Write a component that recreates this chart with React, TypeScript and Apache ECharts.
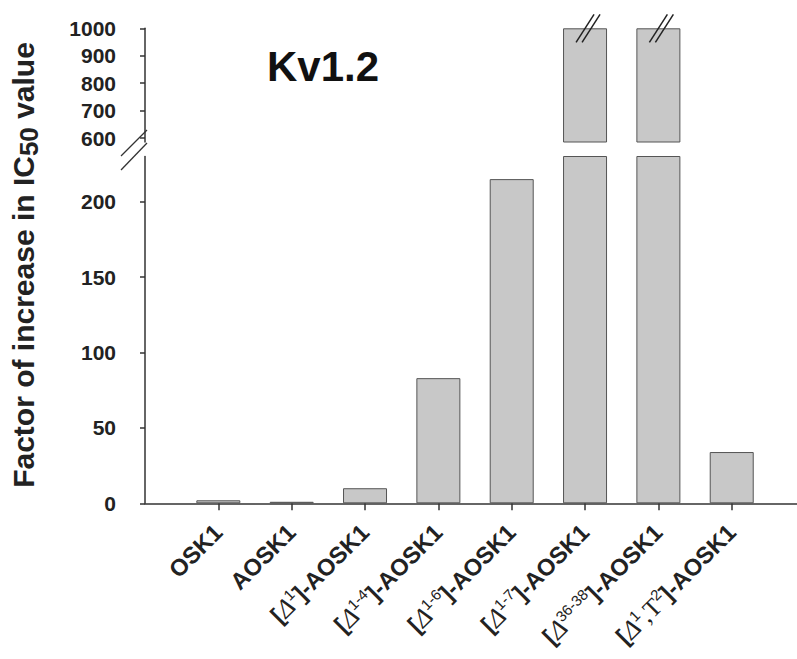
import React, { useEffect, useRef } from "react";
import * as echarts from "echarts";

// Peptide variants (x positions 1..8)
const categories = [
  "OSK1",
  "AOSK1",
  "[Δ1]-AOSK1",
  "[Δ1-4]-AOSK1",
  "[Δ1-6]-AOSK1",
  "[Δ1-7]-AOSK1",
  "[Δ36-38]-AOSK1",
  "[Δ1,T2]-AOSK1",
];
// Rich-text versions of the category labels (superscripts)
const categoryLabels = [
  "{b|OSK1}",
  "{b|AOSK1}",
  "{b|[}{d|Δ}{s|1}{b|]-AOSK1}",
  "{b|[}{d|Δ}{s|1-4}{b|]-AOSK1}",
  "{b|[}{d|Δ}{s|1-6}{b|]-AOSK1}",
  "{b|[}{d|Δ}{s|1-7}{b|]-AOSK1}",
  "{b|[}{d|Δ}{s|36-38}{b|]-AOSK1}",
  "{b|[}{d|Δ}{s|1}{t|,T}{s|2}{b|]-AOSK1}",
];
// Factor of increase in IC50 (two values run off the top of the scale, shown capped at 1000)
const values = [2, 1, 10, 83, 215, 1000, 1000, 34];
const offScale = [false, false, false, false, false, true, true, false];

const lowerTicks = [0, 50, 100, 150, 200];
const upperTicks = [600, 700, 800, 900, 1000];
const lowerMax = 230;
const upperMin = 586;
const upperMax = 1000;

const positions = categories.map((_, i) => i + 1);

export default function App() {
  const ref = useRef<HTMLDivElement>(null);

  useEffect(() => {
    const chart = echarts.init(ref.current!, null, { renderer: "svg" });
    const font = "Liberation Sans, Arial, sans-serif";
    const axisColor = "#333";
    const barStyle = { color: "#c8c8c8", borderColor: "#555", borderWidth: 1 };

    const xCommon = {
      type: "value" as const,
      min: 0,
      max: 8.89,
      splitLine: { show: false },
    };
    const yLabel = {
      margin: 17,
      fontFamily: font,
      fontSize: 21,
      fontWeight: "bold",
      color: "#222",
      formatter: (v: number) => String(v),
    };

    chart.setOption({
      animation: false,
      title: {
        text: "Kv1.2",
        left: 262,
        top: 40,
        textStyle: { fontFamily: font, fontSize: 42, fontWeight: "bold", color: "#111" },
      },
      grid: [
        { left: 145, right: 0, top: 28.3, bottom: 517 },
        { left: 145, right: 0, top: 156.5, bottom: 155.7 },
      ],
      xAxis: [
        { ...xCommon, gridIndex: 0, show: false },
        {
          ...xCommon,
          gridIndex: 1,
          axisLine: { show: true, lineStyle: { color: axisColor, width: 1.5 } },
          axisTick: {
            show: true,
            length: 7,
            customValues: positions,
            lineStyle: { color: axisColor, width: 1.5 },
          },
          axisLabel: {
            customValues: positions,
            rotate: 45,
            margin: 25,
            formatter: (v: number) => categoryLabels[Math.round(v) - 1] ?? "",
            rich: {
              b: { fontFamily: font, fontSize: 23.5, fontWeight: "bold", color: "#222", lineHeight: 29 },
              d: { fontFamily: "Liberation Serif, serif", fontSize: 26, fontStyle: "italic", color: "#222", lineHeight: 29 },
              t: { fontFamily: "Liberation Serif, serif", fontSize: 25, color: "#222", lineHeight: 29 },
              s: { fontFamily: font, fontSize: 15, color: "#222", verticalAlign: "top", lineHeight: 15 },
            },
          },
        },
      ],
      yAxis: [
        {
          type: "value",
          gridIndex: 0,
          min: upperMin,
          max: upperMax,
          offset: 12,
          splitLine: { show: false },
          axisLine: { show: true, lineStyle: { color: axisColor, width: 1.5 } },
          axisTick: { show: true, length: 5, customValues: upperTicks, lineStyle: { color: axisColor, width: 1.5 } },
          axisLabel: { ...yLabel, customValues: upperTicks },
        },
        {
          type: "value",
          gridIndex: 1,
          min: 0,
          max: lowerMax,
          offset: 12,
          splitLine: { show: false },
          axisLine: { show: true, lineStyle: { color: axisColor, width: 1.5 } },
          axisTick: { show: true, length: 5, customValues: lowerTicks, lineStyle: { color: axisColor, width: 1.5 } },
          axisLabel: { ...yLabel, customValues: lowerTicks },
        },
      ],
      series: [
        {
          type: "bar",
          xAxisIndex: 0,
          yAxisIndex: 0,
          barWidth: 44,
          itemStyle: barStyle,
          data: values.map((v, i) => (v >= upperMin ? [positions[i], v] : [positions[i], null])),
        },
        {
          type: "bar",
          xAxisIndex: 1,
          yAxisIndex: 1,
          barWidth: 44,
          itemStyle: barStyle,
          data: values.map((v, i) => [positions[i], v]),
        },
      ],
    });

    // Decorations: axis break marks and off-scale marks on bars
    const graphics: any[] = [];
    const lineStyle = { stroke: "#333", lineWidth: 1.3 };
    // y-axis break
    graphics.push({ type: "line", shape: { x1: 121, y1: 156, x2: 147, y2: 130 }, style: lineStyle });
    graphics.push({ type: "line", shape: { x1: 121, y1: 170, x2: 147, y2: 143 }, style: lineStyle });
    // off-scale bar marks
    values.forEach((v, i) => {
      if (!offScale[i]) return;
      const p = chart.convertToPixel({ gridIndex: 0 }, [positions[i], upperMax]) as number[];
      const cx = p[0] + 3;
      const cy = p[1];
      [-3, 3].forEach((dx) => {
        graphics.push({
          type: "line",
          shape: { x1: cx + dx - 9, y1: cy + 14, x2: cx + dx + 9, y2: cy - 14 },
          style: { stroke: "#222", lineWidth: 1.5 },
          z: 10,
        });
      });
    });
    // y-axis title with subscript
    graphics.push({
      type: "text",
      x: 23,
      y: 265,
      rotation: Math.PI / 2,
      style: {
        text: "{t|Factor of increase in IC}{s|50}{t| value}",
        align: "center",
        verticalAlign: "middle",
        rich: {
          t: { fontFamily: font, fontSize: 30, fontWeight: "bold", fill: "#222", lineHeight: 38, verticalAlign: "middle" },
          s: { fontFamily: font, fontSize: 26, fontWeight: "bold", fill: "#222", lineHeight: 27, verticalAlign: "bottom" },
        },
      },
    });
    chart.setOption({ graphic: graphics });

    return () => chart.dispose();
  }, []);

  return (
    <div
      ref={ref}
      style={{ position: "absolute", left: 0, top: 0, width: 797, height: 659, background: "#fff" }}
    />
  );
}
